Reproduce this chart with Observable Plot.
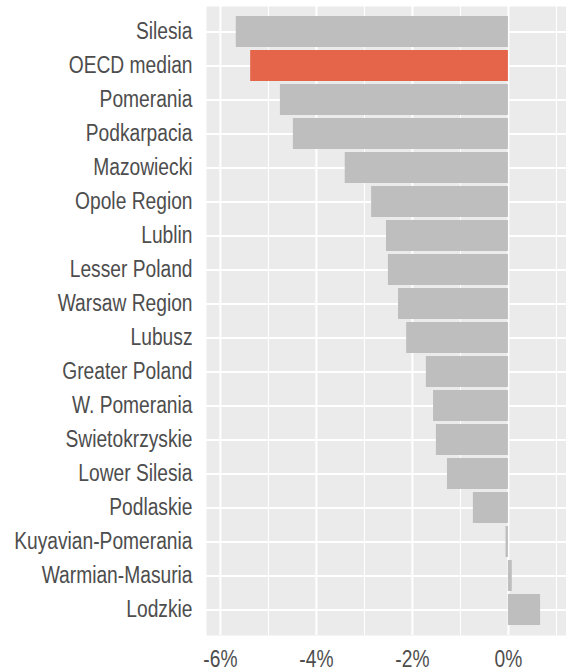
<!DOCTYPE html>
<html>
<head>
<meta charset="utf-8">
<script src="https://cdn.jsdelivr.net/npm/d3@7"></script>
<script src="https://cdn.jsdelivr.net/npm/@observablehq/plot@0.6"></script>
<style>
  html, body { margin: 0; padding: 0; background: #ffffff; }
  #chart svg { display: block; }
</style>
</head>
<body>
<div id="chart"></div>
<script>
const regions = [
  "Silesia", "OECD median", "Pomerania", "Podkarpacia", "Mazowiecki",
  "Opole Region", "Lublin", "Lesser Poland", "Warsaw Region", "Lubusz",
  "Greater Poland", "W. Pomerania", "Swietokrzyskie", "Lower Silesia",
  "Podlaskie", "Kuyavian-Pomerania", "Warmian-Masuria", "Lodzkie"
];
const changes = [
  -5.67, -5.37, -4.75, -4.48, -3.40,
  -2.85, -2.54, -2.50, -2.29, -2.12,
  -1.71, -1.56, -1.50, -1.27,
  -0.73, -0.05, 0.08, 0.67
];
const highlight = "OECD median";
const majorTicks = [-6, -4, -2, 0];
const minorTicks = [-5, -3, -1, 1];

const data = regions.map((r, i) => ({region: r, value: changes[i]}));
const font = "'Liberation Sans', Arial, sans-serif";

const chart = Plot.plot({
  width: 566,
  height: 670,
  marginLeft: 206,
  marginRight: 0,
  marginTop: 6,
  marginBottom: 35,
  style: {fontFamily: font, background: "#ffffff"},
  x: {domain: [-6.29, 1.21], label: null},
  y: {domain: regions, paddingInner: 0.1, paddingOuter: 0.15, label: null},
  marks: [
    Plot.frame({fill: "#ebebeb", stroke: null}),
    Plot.gridX(minorTicks, {stroke: "#ffffff", strokeOpacity: 1, strokeWidth: 1}),
    Plot.gridX(majorTicks, {stroke: "#ffffff", strokeOpacity: 1, strokeWidth: 2}),
    Plot.gridY({stroke: "#ffffff", strokeOpacity: 1, strokeWidth: 2}),
    Plot.barX(data, {
      x: "value",
      y: "region",
      fill: d => d.region === highlight ? "#e5654b" : "#bebebe"
    }),
    Plot.axisY({
      tickSize: 0, tickPadding: 14, fontSize: 23, fill: "#4d4d4d",
      fontFamily: font, label: null
    }),
    Plot.axisX(majorTicks, {
      tickSize: 0, tickPadding: 15, fontSize: 23, fill: "#4d4d4d",
      fontFamily: font, label: null,
      tickFormat: d => `${d}%`
    })
  ]
});
document.getElementById("chart").appendChild(chart);

// condense tick label glyphs horizontally to match the narrow lettering
const sx = 0.835;
chart.querySelectorAll('g[aria-label="y-axis tick label"] text, g[aria-label="x-axis tick label"] text').forEach(t => {
  const w = t.getComputedTextLength();
  if (w > 0) {
    t.setAttribute("textLength", (w * sx).toFixed(2));
    t.setAttribute("lengthAdjust", "spacingAndGlyphs");
  }
});
</script>
</body>
</html>
